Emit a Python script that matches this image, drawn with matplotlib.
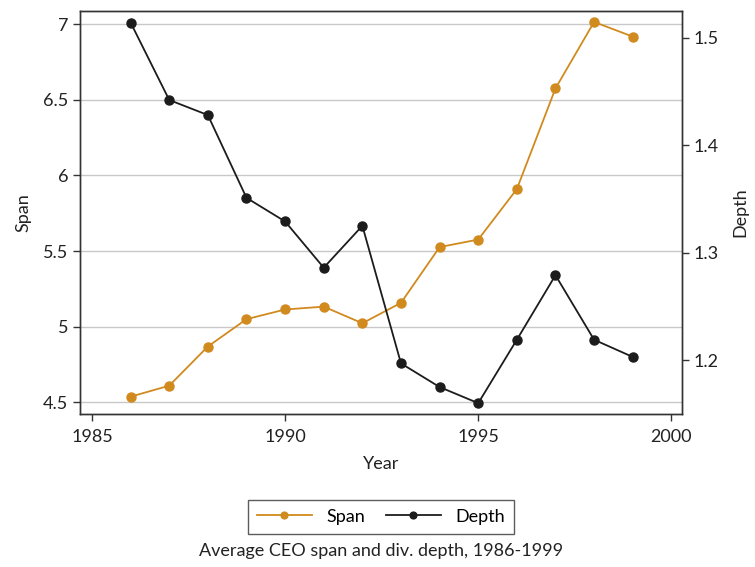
import numpy as np
import matplotlib
matplotlib.use("Agg")
import matplotlib.pyplot as plt

plt.rcParams['font.family'] = ['Lato', 'DejaVu Sans']

years = [1986, 1987, 1988, 1989, 1990, 1991, 1992, 1993, 1994, 1995, 1996, 1997, 1998, 1999]
span = [4.536, 4.609, 4.868, 5.049, 5.113, 5.132, 5.022, 5.157, 5.526, 5.576, 5.910, 6.576, 7.016, 6.919]
depth = [1.514, 1.442, 1.428, 1.351, 1.329, 1.286, 1.325, 1.197, 1.175, 1.160, 1.219, 1.279, 1.219, 1.203]

span_ticks = [4.5, 5, 5.5, 6, 6.5, 7]
span_labels = ['4.5', '5', '5.5', '6', '6.5', '7']
depth_ticks = [1.2, 1.3, 1.4, 1.5]
year_ticks = [1985, 1990, 1995, 2000]

orange = '#D08A1E'
black = '#1c1c1c'
spine_col = '#333333'

fig = plt.figure(figsize=(7.55, 5.67), dpi=100)
ax = fig.add_axes([0.106, 0.270, 0.797, 0.711])
ax2 = ax.twinx()

l1, = ax.plot(years, span, color=orange, marker='o', markersize=6.5, lw=1.3, label='Span')
l2, = ax2.plot(years, depth, color=black, marker='o', markersize=6.5, lw=1.3, label='Depth')

ax.set_xlim(1984.69, 2000.27)
ax.set_ylim(4.422, 7.09)
ax2.set_ylim(1.150, 1.525)

ax.set_xticks(year_ticks)
ax.set_yticks(span_ticks)
ax.set_yticklabels(span_labels)
ax2.set_yticks(depth_ticks)
ax.yaxis.grid(True, color='#c8c8c8', lw=1.0)
ax.set_axisbelow(True)

for a in (ax, ax2):
    for s in a.spines.values():
        s.set_color(spine_col)
        s.set_linewidth(1.0)
    a.tick_params(direction='out', length=5, width=1.0, colors=spine_col, labelsize=13, labelcolor='#222222')
ax.tick_params(axis='x', pad=6)

ax.set_xlabel('Year', fontsize=13, color='#222222', labelpad=8)
ax.set_ylabel('Span', fontsize=13, color='#222222', labelpad=8)
ax2.set_ylabel('Depth', fontsize=13, color='#222222', labelpad=10)

leg = fig.legend(handles=[l1, l2], loc='center', bbox_to_anchor=(381 / 755, 1 - 516.7 / 567),
                 ncol=2, frameon=True, fancybox=False, fontsize=13, handlelength=3.0,
                 markerscale=0.75, columnspacing=1.2, borderpad=0.5, edgecolor='#333333')
leg.get_frame().set_linewidth(1.0)

fig.text(381 / 755, 1 - 551 / 567, 'Average CEO span and div. depth, 1986-1999',
         ha='center', va='center', fontsize=13, color='#222222')

fig.savefig('out.png', dpi=100)
